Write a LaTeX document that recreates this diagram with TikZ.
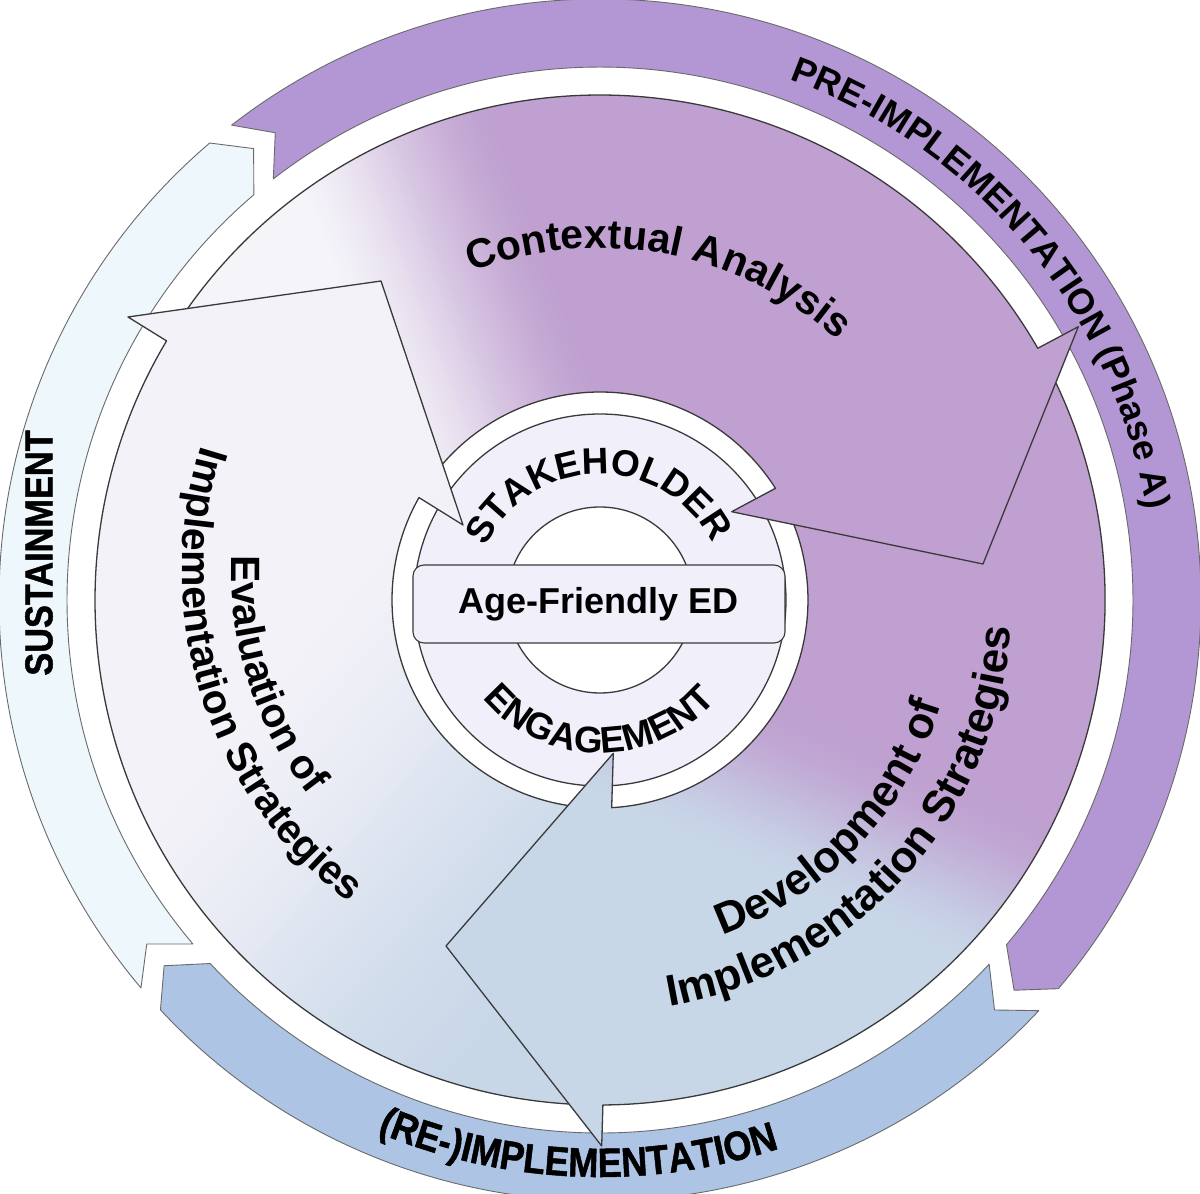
\documentclass[tikz,border=0pt]{standalone}
\usepackage{fontspec}
\usetikzlibrary{decorations.text}
\newfontfamily\lsans{Liberation Sans}
\newfontfamily\lsansC[FakeStretch=0.88,FakeBold=1.2]{Liberation Sans}
\newcommand\fsecE{\lsans\bfseries\fontsize{41}{49}\selectfont}
\newcommand\fsecD{\lsans\bfseries\fontsize{44}{52}\selectfont}
\newcommand\fsecC{\lsans\bfseries\fontsize{41}{49}\selectfont}
\newcommand\fhub{\lsans\bfseries\fontsize{37}{42}\selectfont}
\newcommand\fagebox{\lsans\bfseries\fontsize{36}{42}\selectfont}
\newcommand\fringP{\lsans\bfseries\fontsize{36}{44}\selectfont}
\newcommand\fringC{\lsansC\bfseries\fontsize{41}{48}\selectfont}
\newcommand\fringS{\lsansC\bfseries\fontsize{39}{46}\selectfont}
\definecolor{ringP}{HTML}{B397D4}
\definecolor{ringB}{HTML}{ADC4E4}
\definecolor{ringS}{HTML}{EEF7FC}
\definecolor{ringO}{HTML}{6A6A6A}
\definecolor{secP}{HTML}{BFA0D0}
\definecolor{secB}{HTML}{C8D7E8}
\definecolor{secL}{HTML}{F3F2F8}
\definecolor{secW}{HTML}{F5F4F9}
\definecolor{hubL}{HTML}{F1EFFA}
\definecolor{lineD}{HTML}{3A3A3A}
\begin{document}
\begin{tikzpicture}[x=1pt,y=1pt,
  ringline/.style={draw=ringO, line width=0.9pt, line join=round},
  secline/.style={draw=lineD, line width=1.3pt, line join=round},
  hubline/.style={draw=lineD, line width=1.3pt},
  agebox/.style={draw=lineD, line width=1.1pt, fill=hubL, rounded corners=11pt,
    minimum width=372pt, minimum height=78pt, inner sep=0pt, text=black},
  ringtext/.style={decorate, decoration={text along path, text align=center, #1}}
]
\useasboundingbox (-600,-594) rectangle (600,600);
\fill[white] (-600,-594) rectangle (600,600);

% ---------- outer ring segments ----------
\draw[ringline, fill=ringP] (127.8:601) arc[start angle=127.8,end angle=-40.3,radius=601]
  -- (-43.3:569) -- (-40.3:533) arc[start angle=-40.3,end angle=127.8,radius=533]
  -- (124.8:569) -- cycle;
\draw[ringline, fill=ringB] (-43.1:601) arc[start angle=-43.1,end angle=-137,radius=601]
  -- (-140:569) -- (-137:533) arc[start angle=-137,end angle=-43.1,radius=533]
  -- (-46.1:569) -- cycle;
\draw[ringline, fill=ringS] (220.2:601) arc[start angle=220.2,end angle=130.5,radius=601]
  -- (127.5:569) -- (130.5:533) arc[start angle=130.5,end angle=220.2,radius=533]
  -- (217.2:569) -- cycle;

% ---------- hub ring ----------
\fill[hubL] (0,0) circle[radius=186];
\fill[white] (0,0) circle[radius=93];
\draw[hubline] (0,0) circle[radius=186];
\draw[hubline] (0,0) circle[radius=93];

% ---------- sector C (Contextual Analysis) ----------
\begin{scope}
\clip (144.75:505) arc[start angle=144.75,end angle=29.9,radius=505]
  -- (478.3,273.3) -- (383,36) -- (131.7,88.3)
  -- (32.48:208) arc[start angle=32.48,end angle=139.19,radius=208]
  -- (-219,319) -- cycle;
\fill[secP] (-700,-700) rectangle (700,700);
\begin{scope}[transform canvas={rotate=21}]
\fill[secW] (-1000,-1000) rectangle (-129,1000);
\foreach \i in {0,...,59}{
  \pgfmathsetmacro\xa{-130+\i*3.3}
  \pgfmathsetmacro\tt{(\i+0.5)/60}
  \pgfmathtruncatemacro\pc{50*\tt+50*\tt*\tt*(3-2*\tt)}
  \fill[secP!\pc!secW] (\xa,-1000) rectangle ({\xa+4},1000);
}
\end{scope}
\end{scope}

% ---------- sector D (Development) ----------
\begin{scope}
\clip (25.5:505) arc[start angle=25.5,end angle=-89.67,radius=505]
  -- (1.7,-546) -- (-154,-346) -- (13.3,-153.3)
  -- (-86.78:208) arc[start angle=-86.78,end angle=21.21,radius=208]
  -- (383,36) -- cycle;
\fill[secP] (-700,-700) rectangle (700,700);
\begin{scope}[transform canvas={rotate=66}]
\fill[secB] (-1000,-1000) rectangle (-189,1000);
\foreach \i in {0,...,59}{
  \pgfmathsetmacro\xa{-190+\i*2.8}
  \pgfmathsetmacro\tt{(\i+0.5)/60}
  \pgfmathtruncatemacro\pc{100*\tt*\tt*(3-2*\tt)}
  \fill[secP!\pc!secB] (\xa,-1000) rectangle ({\xa+3.5},1000);
}
\end{scope}
\end{scope}

% ---------- sector E (Evaluation) ----------
\begin{scope}
\clip (266.48:505) arc[start angle=266.48,end angle=149.13,radius=505]
  -- (-472,283) -- (-219,319) -- (-137,75)
  -- (150.5:208) arc[start angle=150.5,end angle=261.2,radius=208]
  -- (-154,-346) -- cycle;
\fill[secB] (-700,-700) rectangle (700,700);
\begin{scope}[transform canvas={rotate=-40}]
\fill[secL] (-1000,-1000) rectangle (-229,1000);
\foreach \i in {0,...,59}{
  \pgfmathsetmacro\xa{-230+\i*7.5}
  \pgfmathsetmacro\tt{(\i+0.5)/60}
  \pgfmathtruncatemacro\pc{100*\tt*\tt*(3-2*\tt)}
  \fill[secB!\pc!secL] (\xa,-1000) rectangle ({\xa+8.2},1000);
}
\end{scope}
\end{scope}

% ---------- sector outlines ----------
\draw[secline] (144.75:505) arc[start angle=144.75,end angle=29.9,radius=505]
  -- (478.3,273.3) -- (383,36) -- (131.7,88.3)
  -- (32.48:208) arc[start angle=32.48,end angle=139.19,radius=208];
\draw[secline] (25.5:505) arc[start angle=25.5,end angle=-89.67,radius=505]
  -- (1.7,-546) -- (-154,-346) -- (13.3,-153.3)
  -- (-86.78:208) arc[start angle=-86.78,end angle=21.21,radius=208];
\draw[secline] (266.48:505) arc[start angle=266.48,end angle=149.13,radius=505]
  -- (-472,283) -- (-219,319) -- (-137,75)
  -- (150.5:208) arc[start angle=150.5,end angle=261.2,radius=208];

% ---------- centre box ----------
\node[agebox] (aged) at (-1,-4) {\fagebox Age-Friendly ED};

% ---------- hub texts ----------
\path[ringtext={text={|\fhub|STAKEHOLDER}}]
  (181:126) arc[start angle=181,end angle=1,radius=126];
\path[ringtext={text={|\fhub|ENGAGEMENT}}]
  (189.5:153) arc[start angle=189.5,end angle=349.5,radius=153];

% ---------- sector texts ----------
\path[ringtext={text={|\fsecC|Contextual Analysis}}]
  (129.5:352) arc[start angle=129.5,end angle=29.5,radius=352];
\path[ringtext={text={|\fsecD|Development of}}]
  (-113.5:357) arc[start angle=-113.5,end angle=26.5,radius=357];
\path[ringtext={text={|\fsecD|Implementation Strategies}}]
  (-112:412) arc[start angle=-112,end angle=28,radius=412];
\begin{scope}[shift={(-5,30)}]
\path[ringtext={text={|\fsecE|Evaluation of}}]
  (128:364) arc[start angle=128,end angle=268,radius=364];
\path[ringtext={text={|\fsecE|Implementation Strategies}}]
  (128:413) arc[start angle=128,end angle=268,radius=413];
\end{scope}

% ---------- ring texts ----------
\path[ringtext={text={|\fringP|PRE-IMPLEMENTATION (Phase A)}}]
  (79.7:554) arc[start angle=79.7,end angle=-0.3,radius=554];
\path[ringtext={text={|\fringC|(RE-)IMPLEMENTATION}}]
  (232.7:577) arc[start angle=232.7,end angle=302.7,radius=577];
\node[rotate=90, inner sep=0pt] (sust) at (-561,47) {\fringS SUSTAINMENT};
\end{tikzpicture}
\end{document}
